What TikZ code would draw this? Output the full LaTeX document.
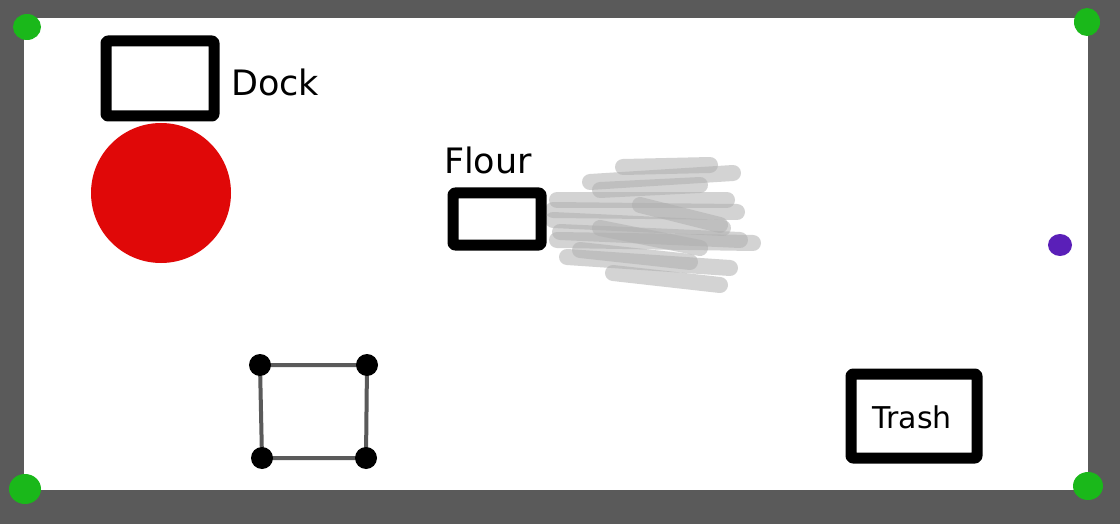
\documentclass[tikz,border=0pt]{standalone}
\usepackage{fontspec}
\setmainfont{DejaVu Sans}
\definecolor{wallgray}{HTML}{5A5A5A}
\definecolor{robotred}{HTML}{E00808}
\definecolor{cornergreen}{HTML}{1AB81A}
\definecolor{markpurple}{HTML}{5A1FB8}
\definecolor{flourgray}{HTML}{B0B0B0}
\begin{document}
\begin{tikzpicture}[x=1pt,y=-1pt,line join=round,line cap=round]
	\tikzset{
		box/.style={draw=black,line width=11pt,rounded corners=2pt},
		label/.style={font=\fontsize{35}{40}\selectfont,inner sep=0pt},
		corner/.style={fill=cornergreen},
		post/.style={fill=black},
		smudge/.style={draw=flourgray,line width=16pt,line cap=round,draw opacity=0.55}
	}
	\useasboundingbox (0,0) rectangle (1120,524);
	% walls and floor
	\fill[wallgray] (0,0) rectangle (1120,524);
	\fill[white] (24,18) rectangle (1088,490);
	% corner marks
	\fill[corner] (27,27) ellipse (14 and 13);
	\fill[corner] (1087,22) ellipse (13 and 14);
	\fill[corner] (25,489) ellipse (16 and 15);
	\fill[corner] (1088,486) ellipse (15 and 14);
	\fill[markpurple] (1060,245) ellipse (12 and 11);
	% dock and robot
	\draw[box] (106,41) rectangle (214,116);
	\node[label,anchor=west] (dock) at (231,82) {Dock};
	\fill[robotred] (161,193) circle (70);
	% flour and its spill
	\foreach \ax/\ay/\bx/\by in {623/167/710/165, 590/182/733/173, 600/190/700/185,
		557/200/727/200, 553/210/737/212, 553/220/723/228, 560/232/740/240,
		557/240/753/243, 567/257/730/268, 613/273/720/285, 580/250/690/262,
		640/205/720/225, 600/228/700/248}
	\draw[smudge] (\ax,\ay) -- (\bx,\by);
	\draw[box] (453,193) rectangle (541,245);
	\node[label] (flour) at (488,160) {Flour};
	% table
	\coordinate (tl) at (260,365);
	\coordinate (tr) at (367,365);
	\coordinate (br) at (366,458);
	\coordinate (bl) at (262,458);
	\draw[wallgray,line width=4pt] (tl) -- (tr) -- (br) -- (bl) -- cycle;
	\foreach \c in {tl,tr,br,bl}
	\fill[post] (\c) circle (11);
	% trash
	\draw[box] (851,374) rectangle (977,458);
	\node[label,font=\fontsize{30}{35}\selectfont] (trash) at (912,417) {Trash};
\end{tikzpicture}
\end{document}
